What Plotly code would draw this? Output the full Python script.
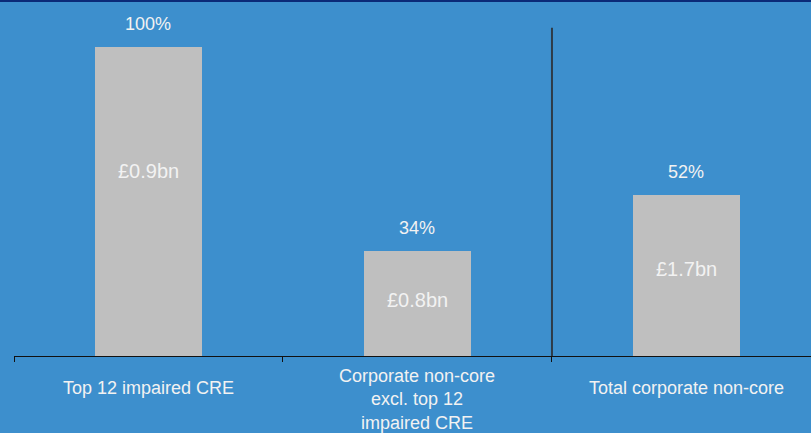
import plotly.graph_objects as go

# Chart data
categories = ["Top 12 impaired CRE",
              "Corporate non-core<br>excl. top 12<br>impaired CRE",
              "Total corporate non-core"]
coverage_pct = [100, 34, 52]
balance_labels = ["£0.9bn", "£0.8bn", "£1.7bn"]

BG = "#3D8FCD"
BAR = "#BFBFBF"
TXT = "#F2F2F2"
FONT = "Liberation Sans Narrow, Arial Narrow, Liberation Sans, sans-serif"

x_idx = list(range(len(categories)))
y_vals = [v / 100 for v in coverage_pct]

fig = go.Figure()
fig.add_trace(go.Bar(
    x=x_idx, y=y_vals, width=0.4,
    marker=dict(color=BAR, line=dict(width=0)),
    hoverinfo="skip",
))

annotations = []
# percentage labels above the bars
for i, v in zip(x_idx, coverage_pct):
    annotations.append(dict(
        x=i, y=v / 100, xref="x", yref="y", text=f"{v}%",
        showarrow=False, yanchor="middle", yshift=23,
        font=dict(family=FONT, size=18, color=TXT)))

# balance labels inside the bars
inside_y = [0.60, 0.18, 0.28]
for i, t, yy in zip(x_idx, balance_labels, inside_y):
    annotations.append(dict(
        x=i, y=yy, xref="x", yref="y", text=t,
        showarrow=False, yanchor="middle",
        font=dict(family=FONT, size=20, color=TXT)))

# category labels under the axis
for i, c in zip(x_idx, categories):
    n_lines = c.count("<br>") + 1
    annotations.append(dict(
        x=i, y=0, xref="x", yref="paper", text=c,
        showarrow=False, yanchor="top", yshift=-20 if n_lines == 1 else -8,
        font=dict(family=FONT, size=18, color=TXT)))

fig.update_layout(
    width=811, height=433,
    margin=dict(l=14, r=0, t=0, b=77),
    paper_bgcolor=BG, plot_bgcolor=BG,
    showlegend=False,
    bargap=0,
    annotations=annotations,
    xaxis=dict(
        type="linear", range=[-0.5, 2.463],
        showgrid=False, zeroline=False,
        showline=True, linecolor="#111111", linewidth=1,
        ticks="outside", tickvals=[-0.5, 0.5, 1.5], ticklen=5,
        tickcolor="#111111", tickwidth=1,
        showticklabels=False, fixedrange=True,
    ),
    yaxis=dict(range=[0, 356 / 309], visible=False, fixedrange=True),
    shapes=[
        # divider between the breakdown and the total
        dict(type="line", xref="x", yref="y", x0=1.5, x1=1.5,
             y0=0, y1=1.062, line=dict(color="#2E3B48", width=2)),
        # thin navy rule along the top edge
        dict(type="rect", xref="paper", yref="paper",
             x0=-14 / 797, x1=1, y0=1 - 2 / 356, y1=1,
             fillcolor="#0B2A78", line=dict(width=0)),
    ],
)

fig.write_html("out.html")
